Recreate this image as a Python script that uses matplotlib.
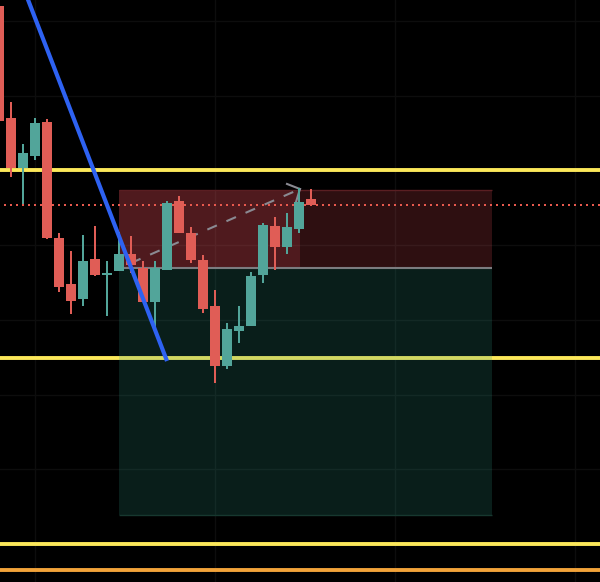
import numpy as np
import matplotlib.pyplot as plt
from matplotlib.patches import Rectangle

# candles (index 0 is cut by the left edge)
opens = [136.01, 128.51, 125.17, 125.97, 128.24, 120.48, 117.40, 116.40, 119.08, 118.00,
         118.27, 119.41, 118.47, 116.20, 118.34, 122.96, 120.82, 119.01, 115.93, 111.91,
         114.26, 114.59, 118.00, 121.28, 119.88, 121.08, 123.09]
highs = [136.20, 129.58, 126.77, 128.51, 128.45, 120.82, 119.61, 120.68, 121.28, 118.94,
         120.88, 120.61, 118.94, 118.94, 122.96, 123.29, 121.22, 119.34, 117.00, 114.79,
         115.93, 118.20, 121.48, 121.89, 122.15, 123.83, 123.76]
lows = [128.20, 124.56, 122.76, 125.70, 120.41, 116.87, 115.39, 115.93, 117.94, 115.26,
        118.27, 118.14, 116.20, 114.12, 118.34, 120.82, 118.81, 115.46, 110.78, 111.71,
        113.45, 114.59, 117.47, 118.34, 119.41, 120.82, 122.69]
closes = [128.31, 125.17, 126.17, 128.18, 120.48, 117.20, 116.26, 118.94, 118.00, 118.15,
          119.41, 118.67, 116.20, 118.47, 122.82, 120.82, 119.01, 115.73, 111.91, 114.39,
          114.59, 117.94, 121.35, 119.88, 121.22, 122.89, 122.69]

# horizontal levels
yellow_levels = [125.0, 112.48, 100.0]
orange_level = 98.26
target_level = 122.72

# position box
box_start, box_end, box_mid = 10.0, 41.12, 25.08
stop_price, entry_price, take_price = 123.69, 118.47, 101.94

# trend line and projection
trend_x = [2.0, 14.0]
trend_y = [137.3, 112.25]
proj_x = [11.0, 25.08]
proj_y = [118.81, 123.76]

grid_prices = [100, 105, 110, 115, 120, 125, 130, 135]
grid_index = [3, 18, 33, 48]

RED = '#E05D56'
GREEN = '#52A59A'

fig = plt.figure(figsize=(6, 5.82), dpi=100, facecolor='black')
ax = fig.add_axes([0, 0, 1, 1])
ax.set_facecolor('black')
ax.set_xlim(0.083, 50.083)
ax.set_ylim(97.46, 136.41)
ax.axis('off')

for p in grid_prices:
    ax.axhline(p, color='#0D0D0D', lw=1, zorder=0)
for g in grid_index:
    ax.axvline(g, color='#0D0D0D', lw=1, zorder=0)

for lv in yellow_levels:
    ax.axhline(lv, color='#FCE85A', lw=2.8, zorder=1)
ax.axhline(orange_level, color='#F2A33A', lw=2.8, zorder=1)

# box: stop zone, take zone
ax.add_patch(Rectangle((box_start, entry_price), box_end - box_start, stop_price - entry_price,
                       facecolor='#E8505A', alpha=0.2, edgecolor='none', zorder=2))
ax.add_patch(Rectangle((box_start, entry_price), box_mid - box_start, stop_price - entry_price,
                       facecolor='#E8505A', alpha=0.18, edgecolor='none', zorder=2))
ax.add_patch(Rectangle((box_start, take_price), box_end - box_start, entry_price - take_price,
                       facecolor='#2E9A86', alpha=0.2, edgecolor='none', zorder=2))
ax.hlines(stop_price, box_start, box_end, color='#5A1E22', lw=1, zorder=2)
ax.hlines(take_price, box_start, box_end, color='#17382F', lw=1, zorder=2)
ax.hlines(entry_price, box_start, box_end, color='#7C7C80', lw=1.5, zorder=3)

ax.axhline(target_level, xmin=0.007, color='#E8594E', lw=1.44,
           linestyle=(0, (1, 2)), dash_capstyle='butt', zorder=3)

# projection arrow
ax.plot(proj_x, proj_y, color='#8A8A92', lw=1.5, linestyle=(0, (5, 5)), zorder=3)
ax.plot([proj_x[1], 24.0], [proj_y[1], 124.1], color='#8A8A92', lw=1.5, zorder=3)
ax.plot([proj_x[1], 24.75], [proj_y[1], 122.89], color='#8A8A92', lw=1.5, zorder=3)

idx = np.arange(len(opens))
o = np.array(opens)
c = np.array(closes)
colors = [GREEN if cc >= oo else RED for oo, cc in zip(o, c)]
ax.vlines(idx, lows, highs, colors=colors, lw=1.44, zorder=4)
heights = np.maximum(np.abs(c - o), 0.12)
ax.bar(idx, heights, bottom=np.minimum(o, c), width=0.83, color=colors, zorder=5)

ax.plot(trend_x, trend_y, color='#2E62F2', lw=3, solid_capstyle='butt', zorder=6)

fig.savefig('out.png', dpi=100, facecolor='black')
